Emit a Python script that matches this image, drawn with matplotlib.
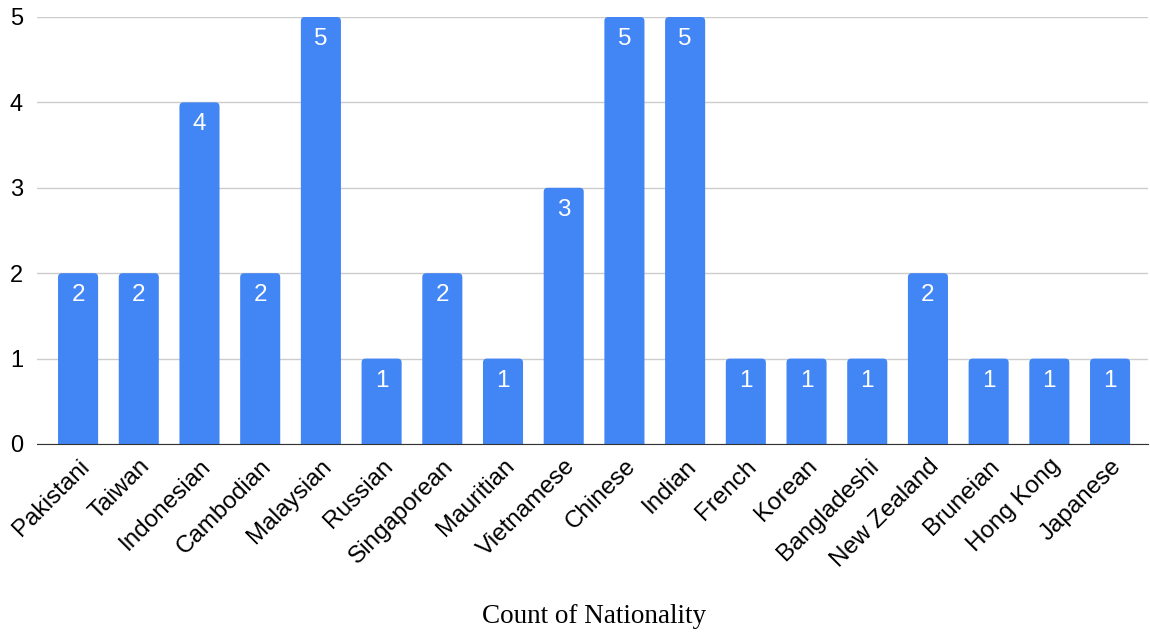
import matplotlib.pyplot as plt
from matplotlib.patches import FancyBboxPatch
import numpy as np

# 国籍统计
nationalities = ['Pakistani', 'Taiwan', 'Indonesian', 'Cambodian', 'Malaysian', 'Russian',
                 'Singaporean', 'Mauritian', 'Vietnamese', 'Chinese', 'Indian', 'French',
                 'Korean', 'Bangladeshi', 'New Zealand', 'Bruneian', 'Hong Kong', 'Japanese']
counts = [2, 2, 4, 2, 5, 1, 2, 1, 3, 5, 5, 1, 1, 1, 2, 1, 1, 1]

plt.rcParams['font.family'] = ['Liberation Sans', 'DejaVu Sans']

fig = plt.figure(figsize=(11.5, 6.34), dpi=100)
ax = fig.add_axes([0.032, 0.2997, 0.966, 0.6735])

x = np.arange(len(nationalities))
bars = ax.bar(x, counts, 0.66, color='#4285f4', zorder=3)

# 圆角柱: 用柱的几何生成圆角矩形, 底部延伸到0以下被裁掉
for rect in bars:
    bx, bw, bh = rect.get_x(), rect.get_width(), rect.get_height()
    p = FancyBboxPatch((bx, -0.2), bw, bh + 0.2,
                       boxstyle='round,pad=0,rounding_size=0.066',
                       mutation_aspect=0.71, facecolor='#4285f4',
                       edgecolor='none', zorder=3)
    ax.add_patch(p)
    rect.set_visible(False)

# 柱内数值
for xi, c in zip(x, counts):
    ax.text(xi, c - 0.13, str(c), ha='center', va='top', color='white', fontsize=17.5, zorder=4)

ax.set_xlim(-0.68, 17.62)
ax.set_ylim(0, 5)
ax.set_yticks(range(6))
ax.tick_params(axis='y', length=0, labelsize=17, pad=10)
ax.set_xticks(x)
ax.set_xticklabels(nationalities, rotation=45, ha='right', rotation_mode='anchor', fontsize=17.5)
ax.tick_params(axis='x', length=0, pad=8)

ax.grid(axis='y', color='#cccccc', linewidth=1, zorder=0)
for s in ['top', 'right', 'left']:
    ax.spines[s].set_visible(False)
ax.spines['bottom'].set_color('#333333')
ax.spines['bottom'].set_zorder(5)

fig.text(0.517, 0.027, 'Count of Nationality', ha='center', va='center',
         family='Liberation Serif', fontsize=19.5)

plt.savefig('out.png')
plt.close()
